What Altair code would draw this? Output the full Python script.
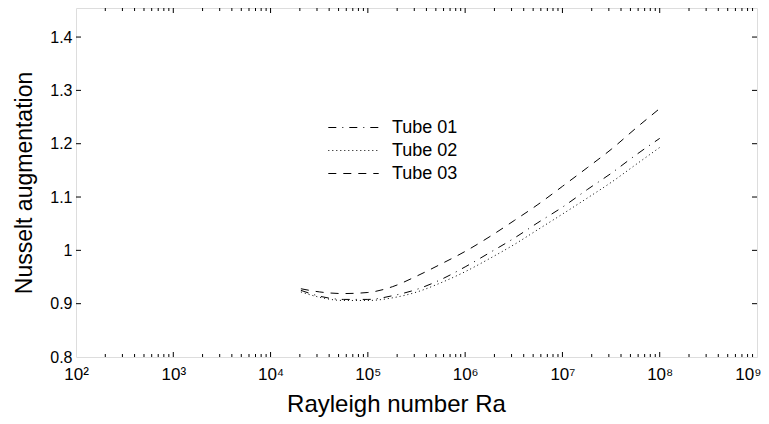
import altair as alt
import pandas as pd

# Rayleigh numbers at which curves are sampled
ra = [2.05e4, 3.2e4, 5.6e4, 1.0e5, 1.8e5, 3.2e5, 5.6e5, 1.0e6, 1.8e6,
      3.2e6, 5.6e6, 1.0e7, 1.8e7, 3.2e7, 5.6e7, 1.0e8]
tube01 = [0.925, 0.914, 0.908, 0.908, 0.915, 0.927, 0.945, 0.969, 0.996,
          1.023, 1.052, 1.081, 1.114, 1.145, 1.178, 1.210]
tube02 = [0.922, 0.912, 0.906, 0.906, 0.911, 0.922, 0.939, 0.960, 0.985,
          1.011, 1.039, 1.068, 1.098, 1.128, 1.160, 1.193]
tube03 = [0.928, 0.922, 0.919, 0.921, 0.932, 0.952, 0.974, 0.998, 1.026,
          1.056, 1.086, 1.120, 1.155, 1.190, 1.228, 1.266]
series = ["Tube 01", "Tube 02", "Tube 03"]

x_decades = [1e2, 1e3, 1e4, 1e5, 1e6, 1e7, 1e8, 1e9]
x_minor = [k * d for d in [1e2, 1e3, 1e4, 1e5, 1e6, 1e7, 1e8] for k in range(2, 10)]
y_ticks = [0.8, 0.9, 1.0, 1.1, 1.2, 1.3, 1.4]

rows = []
for name, vals in zip(series, [tube01, tube02, tube03]):
    for r, v in zip(ra, vals):
        rows.append({"Ra": r, "Nu": v, "Tube": name})
df = pd.DataFrame(rows)

W, H = 681, 349
FONT = "Liberation Sans"
xdom = [1e2, 1e9]
ydom = [0.8, 1.4545]

xscale = alt.Scale(type="log", domain=xdom, nice=False)
yscale = alt.Scale(domain=ydom, nice=False, zero=False)

sup = "{'2':'²','3':'³','4':'⁴','5':'⁵','6':'⁶','7':'⁷','8':'⁸','9':'⁹'}"
xlab = "'10' + " + sup + "[format(round(log(datum.value)/LN10), 'd')]"

lines = alt.Chart(df).mark_line(color="black", strokeWidth=1, interpolate="monotone").encode(
    x=alt.X("Ra:Q", scale=xscale,
            axis=alt.Axis(values=x_decades, labelExpr=xlab, title="Rayleigh number Ra",
                          grid=False, ticks=False, domain=False, labelFlush=False,
                          labelAlign={"expr": "datum.value > 5e8 ? 'right' : 'center'"},
                          labelOffset={"expr": "datum.value > 5e8 ? 4 : 0"},
                          labelFont=FONT, labelFontSize=17, labelColor="black",
                          labelPadding=9, titleFont=FONT, titleFontSize=24,
                          titleFontWeight="normal", titleColor="black", titlePadding=10,
                          titleX=320, titleAnchor="start", titleAlign="center")),
    y=alt.Y("Nu:Q", scale=yscale,
            axis=alt.Axis(values=y_ticks, format=".1~f", title="Nusselt augmentation",
                          grid=False, ticks=False, domain=False,
                          labelFont=FONT, labelFontSize=16, labelColor="black",
                          labelPadding=4, titleFont=FONT, titleFontSize=23,
                          titleFontWeight="normal", titleColor="black", titlePadding=13)),
    strokeDash=alt.StrokeDash("Tube:N",
        scale=alt.Scale(domain=series, range=[[8, 6, 1, 6], [1, 3], [8, 7]]),
        legend=alt.Legend(orient="none", legendX=268, legendY=110, title=None,
                          symbolType="M-2.8,0H2.8", symbolSize=324, symbolStrokeWidth=1,
                          symbolStrokeColor="black", symbolFillColor="transparent",
                          labelFont=FONT, labelFontSize=18,
                          labelColor="black", labelOffset=29, rowPadding=4)),
)

xmaj_df = pd.DataFrame({"Ra": x_decades[1:-1]})
xmin_df = pd.DataFrame({"Ra": x_minor})
y_df = pd.DataFrame({"Nu": y_ticks[1:]})

def xt(data, length, top):
    if top:
        enc = dict(y=alt.value(0), y2=alt.value(length))
    else:
        enc = dict(y=alt.value(H), y2=alt.value(H - length))
    return alt.Chart(data).mark_rule(color="black", strokeWidth=1).encode(
        x=alt.X("Ra:Q", scale=xscale), **enc)

def yt(data, length, right):
    if right:
        enc = dict(x=alt.value(W), x2=alt.value(W - length))
    else:
        enc = dict(x=alt.value(0), x2=alt.value(length))
    return alt.Chart(data).mark_rule(color="black", strokeWidth=1).encode(
        y=alt.Y("Nu:Q", scale=yscale), **enc)

chart = alt.layer(
    lines,
    xt(xmaj_df, 5, False), xt(xmaj_df, 5, True),
    xt(xmin_df, 3, False), xt(xmin_df, 3, True),
    yt(y_df, 5, False), yt(y_df, 5, True),
).properties(
    width=W, height=H,
    autosize=alt.AutoSizeParams(type="none"),
    padding={"left": 68, "top": 0, "right": 4, "bottom": 60},
).configure_view(stroke="black", strokeWidth=1).configure(background="white")

chart.save("out.html", embed_options={"renderer": "svg", "actions": False})
